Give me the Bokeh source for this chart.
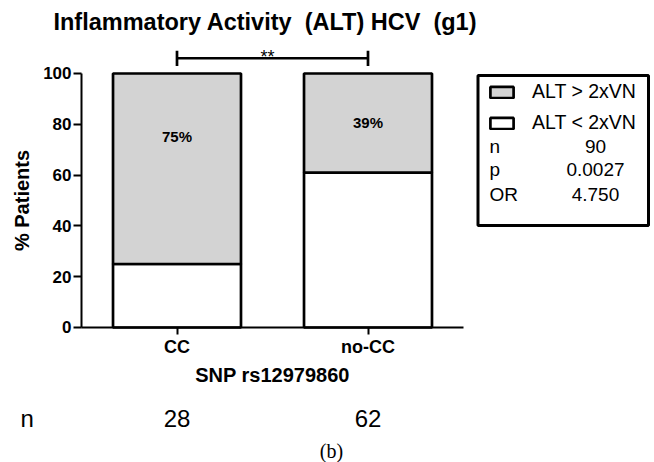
from bokeh.plotting import figure
from bokeh.models import (ColumnDataSource, Range1d, FixedTicker, Label,
                          Legend, LegendItem, BoxAnnotation)
from bokeh.embed import file_html
from bokeh.resources import INLINE
from bokeh.core.properties import value

# ---------------- data ----------------
categories = ["CC", "no-CC"]
alt_low = [25, 61]            # % patients ALT < 2xVN
alt_high = [75, 39]           # % patients ALT > 2xVN
pct_labels = ["75%", "39%"]
pct_label_y = [75, 80.7]
n_counts = ["28", "62"]
y_ticks = [0, 20, 40, 60, 80, 100]
series_names = ["ALT > 2xVN", "ALT < 2xVN"]
stat_names = ["n", "p", "OR"]
stat_values = ["90", "0.0027", "4.750"]
signif = "**"
title_text = "Inflammatory Activity\u00a0 (ALT) HCV\u00a0 (g1)"

# category slots on a numeric axis (slot i is centred at i + 0.5)
x_pos = [i + 0.5 for i in range(len(categories))]

# ---------------- style / layout constants ----------------
GREY = "#d3d3d3"
SANS = "Liberation Sans"
SERIF = "Liberation Serif"
LW = 2.7
W, H = 654, 462
BRACKET_Y, CAP_LO, CAP_HI = 106, 103, 109
N_ROW_Y = -36

src = ColumnDataSource(dict(x=x_pos, low=alt_low, high=alt_high,
                            lab=pct_labels, lab_y=pct_label_y, n=n_counts,
                            n_y=[N_ROW_Y] * len(categories)))

p = figure(x_range=Range1d(-0.4241, 3.0), y_range=Range1d(-53.15, 128.74),
           width=W, height=H,
           min_border_left=0, min_border_right=0,
           min_border_top=0, min_border_bottom=0,
           output_backend="svg", toolbar_location=None)
p.outline_line_color = None
p.xgrid.visible = False
p.ygrid.visible = False
p.background_fill_color = "white"
p.border_fill_color = "white"

# title
p.add_layout(Label(x=0.963, y=120.2, text=title_text, text_align="center",
                   text_baseline="middle", text_font=SANS,
                   text_font_size="23.5px", text_font_style="bold",
                   text_color="black"))

# stacked bars
bars = p.vbar_stack(["low", "high"], x="x", width=0.67, source=src,
                    fill_color=["white", GREY], line_color="black",
                    line_width=LW)

# percentage labels
p.text(x="x", y="lab_y", text="lab", source=src, text_align="center",
       text_baseline="middle", text_font=value(SANS),
       text_font_size=value("15px"), text_font_style="bold",
       text_color="black")

# significance bracket
p.segment(x0=[x_pos[0]], y0=[BRACKET_Y], x1=[x_pos[1]], y1=[BRACKET_Y],
          line_color="black", line_width=LW)
p.segment(x0=x_pos, y0=[CAP_LO] * 2, x1=x_pos, y1=[CAP_HI] * 2,
          line_color="black", line_width=LW)
p.add_layout(Label(x=0.974, y=106.6, text=signif, text_align="center",
                   text_baseline="middle", text_font=SANS,
                   text_font_size="18px", text_color="black"))

# axes (drawn at the data origin)
p.xaxis.fixed_location = 0
p.yaxis.fixed_location = 0
p.xaxis.bounds = (0, len(categories))
p.yaxis.bounds = (0, 100)
p.xaxis.ticker = FixedTicker(ticks=x_pos)
p.xaxis.major_label_overrides = {x: c for x, c in zip(x_pos, categories)}
p.yaxis.ticker = FixedTicker(ticks=y_ticks)
p.yaxis.axis_label = "% Patients"
p.xaxis.axis_label = "SNP rs12979860"
for ax in (p.xaxis, p.yaxis):
    ax.axis_line_color = "black"
    ax.axis_line_width = 2
    ax.major_tick_line_color = "black"
    ax.major_tick_line_width = 2
    ax.major_tick_in = 0
    ax.minor_tick_line_color = None
    ax.major_label_text_font = SANS
    ax.major_label_text_font_style = "bold"
    ax.major_label_text_color = "black"
    ax.axis_label_text_font = SANS
    ax.axis_label_text_font_style = "bold"
    ax.axis_label_text_color = "black"
    ax.axis_label_text_font_size = "20px"
p.yaxis.major_tick_out = 8
p.yaxis.major_label_text_font_size = "17px"
p.yaxis.major_label_standoff = 2
p.yaxis.axis_label_standoff = 7
p.xaxis.major_tick_out = 7
p.xaxis.major_label_text_font_size = "18px"
p.xaxis.major_label_standoff = 3
p.xaxis.axis_label_standoff = 3

# n row below the chart
p.text(x="x", y="n_y", text="n", source=src, text_align="center",
       text_baseline="middle", text_font=value(SANS),
       text_font_size=value("24px"), text_color="black")
p.add_layout(Label(x=-0.32, y=N_ROW_Y, text="n", text_align="left",
                   text_baseline="middle", text_font=SANS,
                   text_font_size="24px", text_color="black"))
p.add_layout(Label(x=1.309, y=-48.6, text="(b)", text_align="center",
                   text_baseline="middle", text_font=SERIF,
                   text_font_size="20px", text_color="black"))

# ---------------- legend box ----------------
BOX_L, BOX_R, BOX_T, BOX_B = 2.0759, 2.9686, 99.2, 40.16
p.add_layout(BoxAnnotation(left=BOX_L, right=BOX_R, top=BOX_T, bottom=BOX_B,
                           fill_alpha=0, line_color="black", line_width=3,
                           line_alpha=1))

ITEM_H, SPACING = 22, 8
leg_h = 2 * ITEM_H + SPACING
leg = Legend(items=[LegendItem(label=series_names[0], renderers=[bars[1]]),
                    LegendItem(label=series_names[1], renderers=[bars[0]])],
             location=(487, H - 82 - leg_h), margin=0, padding=0,
             border_line_color=None, background_fill_alpha=0,
             glyph_width=29, glyph_height=14, label_height=14,
             label_standoff=16, spacing=SPACING,
             label_text_font=SANS, label_text_font_size="19.5px",
             label_text_color="black")
p.add_layout(leg)

stat_src = ColumnDataSource(dict(name=stat_names, val=stat_values,
                                 y=[71.3, 62.2, 52.4]))
p.text(x=2.136, y="y", text="name", source=stat_src, text_align="left",
       text_baseline="middle", text_font=value(SANS),
       text_font_size=value("19px"), text_color="black")
p.text(x=2.691, y="y", text="val", source=stat_src, text_align="center",
       text_baseline="middle", text_font=value(SANS),
       text_font_size=value("19px"), text_color="black")

open("out.html", "w").write(file_html(p, INLINE))
